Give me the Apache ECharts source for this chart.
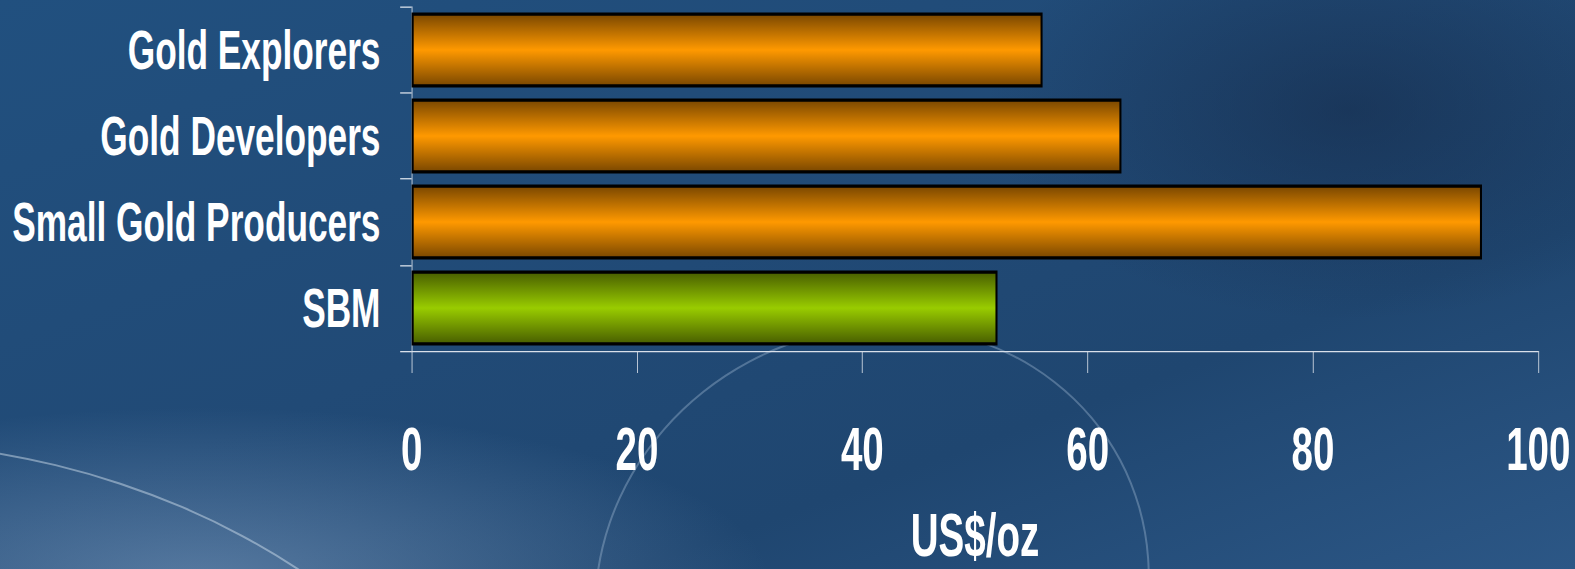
<!DOCTYPE html>
<html>
<head>
<meta charset="utf-8">
<title>Gold cost comparison</title>
<script src="https://cdn.jsdelivr.net/npm/echarts@6/dist/echarts.min.js"></script>
<style>
  html, body { margin: 0; padding: 0; }
  body {
    width: 1575px; height: 569px; overflow: hidden; position: relative;
    background:
      radial-gradient(ellipse 760px 230px at 200px 580px, rgba(140,170,205,0.5), rgba(140,170,205,0) 75%),
      radial-gradient(ellipse 520px 300px at 1350px 110px, rgba(20,40,70,0.55), rgba(20,40,70,0) 70%),
      linear-gradient(160deg, #21507f 0%, #214a76 45%, #1f4670 70%, #2c5786 100%);
  }
  .deco-arc {
    position: absolute; left: 590px; top: 330px; width: 560px; height: 520px;
    border: 2px solid rgba(200,220,240,0.3); border-radius: 50%;
    transform: rotate(-28deg);
  }
  .deco-arc2 {
    position: absolute; left: -850px; top: 440px; width: 1400px; height: 1120px;
    border: 2px solid rgba(220,232,245,0.45); border-radius: 50%;
  }
  /* the original slide stretches the whole chart: narrow and tall text */
  #chart {
    position: absolute; left: 0; top: 0;
    width: 1921px; height: 438px;
    transform-origin: 0 0;
    transform: scale(0.82, 1.3);
  }
</style>
</head>
<body>
<div class="deco-arc2"></div>
<div class="deco-arc"></div>
<div id="chart"></div>
<script>
// data
var categories = ['Gold Explorers', 'Gold Developers', 'Small Gold Producers', 'SBM'];
var values = [56, 63, 95, 52];
var xTicks = [0, 20, 40, 60, 80, 100];

function barGradient(edge, mid) {
  return new echarts.graphic.LinearGradient(0, 0, 0, 1, [
    {offset: 0, color: edge},
    {offset: 0.5, color: mid},
    {offset: 1, color: edge}
  ]);
}

var orange = barGradient('#7a4700', '#ff9900');
var green = barGradient('#485e00', '#99cc00');

var chart = echarts.init(document.getElementById('chart'), null, {renderer: 'svg'});

var option = {
  animation: false,
  grid: {
    left: 502,
    right: 45,
    top: 5.4,
    bottom: 168,
    containLabel: false,
    outerBoundsMode: 'none'
  },
  xAxis: {
    type: 'value',
    min: xTicks[0],
    max: xTicks[xTicks.length - 1],
    interval: 20,
    name: 'US$/oz',
    nameLocation: 'middle',
    nameGap: 118,
    nameTextStyle: {
      color: '#ffffff',
      fontFamily: '"Liberation Sans", Arial, sans-serif',
      fontWeight: 'bold',
      fontSize: 47
    },
    axisLine: {show: true, lineStyle: {color: '#d9e0ea', width: 1}},
    axisTick: {show: true, length: 17, lineStyle: {color: '#d9e0ea', width: 1}},
    splitLine: {show: false},
    axisLabel: {
      margin: 52,
      color: '#ffffff',
      fontFamily: '"Liberation Sans", Arial, sans-serif',
      fontWeight: 'bold',
      fontSize: 47
    }
  },
  yAxis: {
    type: 'category',
    inverse: true,
    data: categories,
    axisLine: {show: true, lineStyle: {color: '#d9e0ea', width: 1}},
    axisTick: {show: true, length: 14, lineStyle: {color: '#d9e0ea', width: 1}},
    axisLabel: {
      margin: 38,
      color: '#ffffff',
      fontFamily: '"Liberation Sans", Arial, sans-serif',
      fontWeight: 'bold',
      fontSize: 43
    }
  },
  series: [
    {
      type: 'bar',
      barCategoryGap: '13%',
      data: values.map(function (v, i) {
        return {
          value: v,
          itemStyle: {
            color: categories[i] === 'SBM' ? green : orange,
            borderColor: '#000000',
            borderWidth: 2.5
          }
        };
      })
    }
  ]
};

chart.setOption(option);
</script>
</body>
</html>
